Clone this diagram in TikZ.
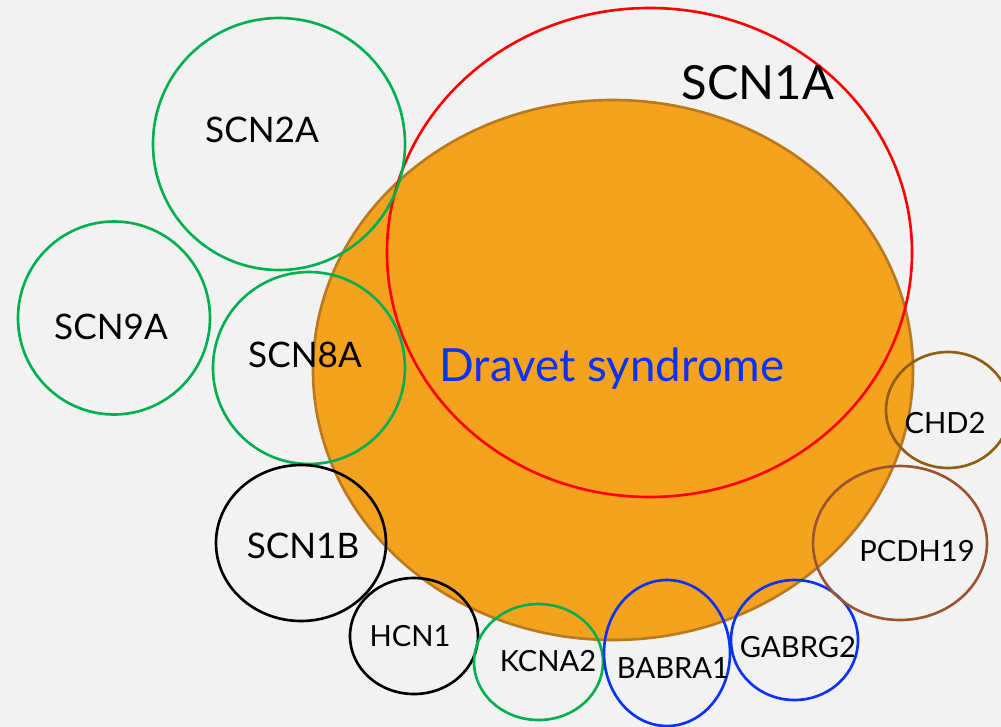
\documentclass[tikz,border=0pt]{standalone}
\usepackage{fontspec}
\setmainfont{Lato}
\definecolor{bgGray}{HTML}{F2F2F2}
\definecolor{dravetFill}{HTML}{F5A21E}
\definecolor{dravetEdge}{HTML}{B8791F}
\definecolor{geneGreen}{HTML}{00B050}
\definecolor{geneBlue}{HTML}{0A32F5}
\definecolor{geneRed}{HTML}{FF0000}
\definecolor{chdBrown}{HTML}{8F5E12}
\definecolor{pcdhBrown}{HTML}{9A5530}
\tikzset{
  gene/.style={line width=0.75pt},
  genelabel/.style={inner sep=0pt, font=\fontsize{10}{12}\selectfont},
  smalllabel/.style={inner sep=0pt, font=\fontsize{8.3}{10}\selectfont},
}
\begin{document}
\begin{tikzpicture}
	% Canvas
	\useasboundingbox (0,0) rectangle (10.01,-7.27);
	\fill [bgGray] (0,0) rectangle (10.01,-7.27);
	% Dravet syndrome
	\draw [gene, fill=dravetFill, draw=dravetEdge] (6.13,-3.70) ellipse (3.00 and 2.70);
	\node [inner sep=0pt, text=geneBlue, font=\fontsize{13}{15}\selectfont] (dravet) at (6.12,-3.69) {Dravet syndrome};
	% SCN1A
	\draw [gene, geneRed] (6.495,-2.525) ellipse (2.625 and 2.445);
	\node [inner sep=0pt, font=\fontsize{13.4}{15}\selectfont] (scn1a) at (7.58,-0.83) {SCN1A};
	% Sodium channel genes
	\draw [gene, geneGreen] (2.79,-1.44) ellipse (1.26 and 1.26);
	\node [genelabel] (scn2a) at (2.62,-1.30) {SCN2A};
	\draw [gene, geneGreen] (1.14,-3.18) ellipse (0.96 and 0.965);
	\node [genelabel] (scn9a) at (1.11,-3.27) {SCN9A};
	\draw [gene, geneGreen] (3.09,-3.68) ellipse (0.96 and 0.96);
	\node [genelabel] (scn8a) at (3.05,-3.55) {SCN8A};
	\draw [gene, black] (3.01,-5.43) ellipse (0.85 and 0.78);
	\node [genelabel] (scn1b) at (3.03,-5.46) {SCN1B};
	% Other genes
	\draw [gene, black] (4.14,-6.36) ellipse (0.64 and 0.58);
	\node [smalllabel] (hcn1) at (4.10,-6.36) {HCN1};
	\draw [gene, geneGreen] (5.385,-6.62) ellipse (0.645 and 0.58);
	\node [smalllabel] (kcna2) at (5.48,-6.61) {KCNA2};
	\draw [gene, geneBlue] (6.67,-6.53) ellipse (0.63 and 0.73);
	\node [smalllabel] (babra1) at (6.73,-6.68) {BABRA1};
	\draw [gene, geneBlue] (7.945,-6.40) ellipse (0.635 and 0.60);
	\node [smalllabel] (gabrg2) at (7.98,-6.47) {GABRG2};
	\draw [gene, pcdhBrown] (9.00,-5.43) ellipse (0.87 and 0.77);
	\node [smalllabel] (pcdh19) at (9.17,-5.51) {PCDH19};
	\draw [gene, chdBrown] (9.48,-4.10) ellipse (0.62 and 0.58);
	\node [smalllabel] (chd2) at (9.45,-4.23) {CHD2};
\end{tikzpicture}
\end{document}
